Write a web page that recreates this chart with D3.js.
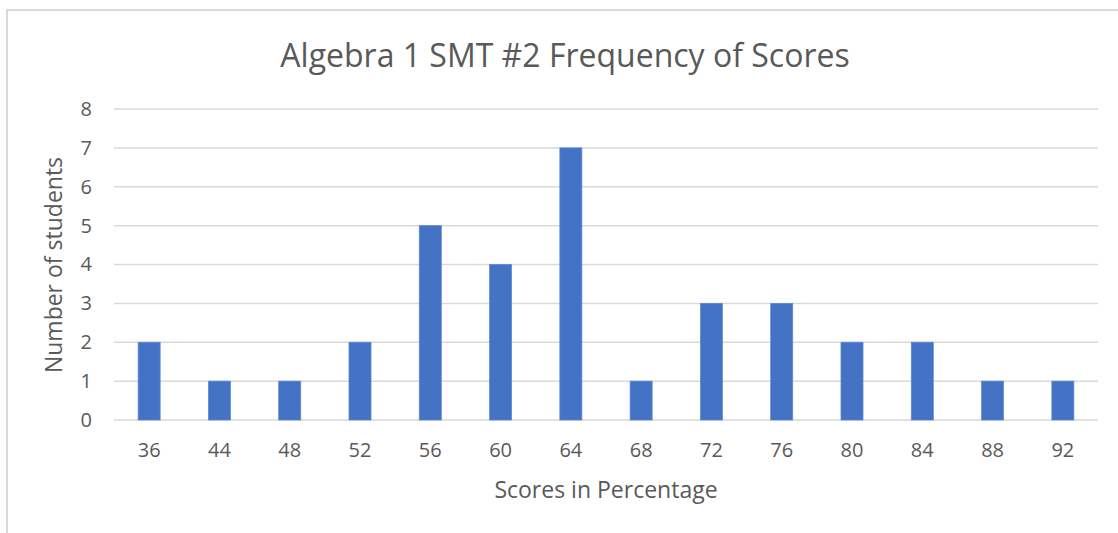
<!DOCTYPE html>
<html>
<head>
<meta charset="utf-8">
<script src="https://cdn.jsdelivr.net/npm/d3@7"></script>
<style>
  body { margin: 0; background: #fff; }
  text { font-family: "Open Sans", sans-serif; fill: #595959; }
</style>
</head>
<body>
<svg id="mainsvg" width="1118" height="533"></svg>
<script>
const scores = ['36', '44', '48', '52', '56', '60', '64', '68', '72', '76', '80', '84', '88', '92'];
const students = [2, 1, 1, 2, 5, 4, 7, 1, 3, 3, 2, 2, 1, 1];
const yTicks = [0, 1, 2, 3, 4, 5, 6, 7, 8];

const svg = d3.select('#mainsvg');
const width = +svg.attr('width');
const height = +svg.attr('height');
const margin = { top: 109, right: 20, bottom: 113, left: 114 };
const innerWidth = 1098 - margin.left;
const innerHeight = 420 - margin.top;

// chart frame (only top and left edges are visible)
svg.append('path')
    .attr('d', `M7,${height} V10 H${width}`)
    .attr('fill', 'none')
    .attr('stroke', '#d9d9d9')
    .attr('stroke-width', 2);

const xScale = d3.scaleBand()
    .domain(scores)
    .range([0, innerWidth])
    .paddingInner(0.6865)
    .paddingOuter(0.6865 / 2);

const yScale = d3.scaleLinear()
    .domain([0, 8])
    .range([innerHeight, 0]);

const g = svg.append('g').attr('id', 'maingroup')
    .attr('transform', `translate(${margin.left}, ${margin.top})`);

// gridlines
g.append('g').selectAll('line').data(yTicks).join('line')
    .attr('x1', 0).attr('x2', innerWidth)
    .attr('y1', d => yScale(d)).attr('y2', d => yScale(d))
    .attr('stroke', '#d9d9d9')
    .attr('stroke-width', 1.5);

const yAxis = d3.axisLeft(yScale).tickValues(yTicks).tickSize(0).tickPadding(22);
const yg = g.append('g').call(yAxis)
    .attr('font-size', 20).attr('font-family', '"Open Sans", sans-serif');
yg.select('.domain').remove();
yg.selectAll('.tick text').attr('fill', '#595959');

const xAxis = d3.axisBottom(xScale).tickSize(0).tickPadding(23);
const xg = g.append('g').call(xAxis).attr('transform', `translate(0, ${innerHeight})`)
    .attr('font-size', 20).attr('font-family', '"Open Sans", sans-serif');
xg.select('.domain').remove();
xg.selectAll('.tick text').attr('fill', '#595959');

g.selectAll('rect.bar').data(scores).join('rect')
    .attr('class', 'bar')
    .attr('x', d => xScale(d))
    .attr('y', (d, i) => yScale(students[i]))
    .attr('width', xScale.bandwidth())
    .attr('height', (d, i) => innerHeight - yScale(students[i]))
    .attr('fill', '#4472c4')
    .attr('stroke', '#5b88d6')
    .attr('stroke-width', 0.75);

svg.append('text').text('Algebra 1 SMT #2 Frequency of Scores')
    .attr('x', 565).attr('y', 67)
    .attr('text-anchor', 'middle')
    .attr('font-size', '32px');

svg.append('text').text('Scores in Percentage')
    .attr('x', 606).attr('y', 498)
    .attr('text-anchor', 'middle')
    .attr('font-size', '23px');

svg.append('text').text('Number of students')
    .attr('transform', 'translate(62, 265) rotate(-90)')
    .attr('text-anchor', 'middle')
    .attr('font-size', '23px');
</script>
</body>
</html>
